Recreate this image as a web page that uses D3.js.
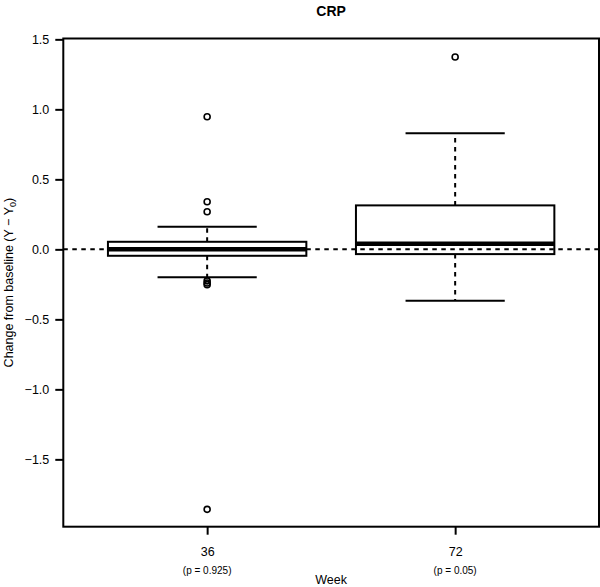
<!DOCTYPE html>
<html>
<head>
<meta charset="utf-8">
<script src="https://cdn.jsdelivr.net/npm/d3@7"></script>
<style>
  body { margin: 0; background: #fff; }
  text { font-family: "Liberation Sans", Arial, sans-serif; fill: #000; }
</style>
</head>
<body>
<div id="chart"></div>
<script>
// box stats per week
var weeks = ["36", "72"];
var pLabels = ["(p = 0.925)", "(p = 0.05)"];
var whiskLo = [-0.20, -0.367];
var q1 = [-0.046, -0.034];
var median = [0.0, 0.04];
var q3 = [0.054, 0.314];
var whiskHi = [0.161, 0.83];
var outliers36 = [0.947, 0.34, 0.269, -0.225, -0.24, -0.252, -1.857];
var outliers72 = [1.374];
var yTicks = [-1.5, -1.0, -0.5, 0.0, 0.5, 1.0, 1.5];

var width = 600, height = 587;
var fmt = d3.format(".1f");

var svg = d3.select("#chart").append("svg")
  .attr("width", width)
  .attr("height", height);

var x = d3.scaleLinear().domain([0.42, 2.58]).range([63.3, 599]);
var y = d3.scaleLinear().domain([-1.981, 1.506]).range([526.7, 38.5]);

var boxes = weeks.map(function(w, i) {
  return {
    pos: i + 1, lo: whiskLo[i], q1: q1[i], med: median[i], q3: q3[i], hi: whiskHi[i],
    out: i === 0 ? outliers36 : outliers72
  };
});

var boxW = 0.8, capW = 0.4;

var g = svg.append("g").selectAll("g.box")
  .data(boxes)
  .enter().append("g").attr("class", "box");

// whiskers
g.append("line")
  .attr("x1", d => x(d.pos)).attr("x2", d => x(d.pos))
  .attr("y1", d => y(d.q3)).attr("y2", d => y(d.hi))
  .attr("stroke", "#000").attr("stroke-width", 2).attr("stroke-dasharray", "4.5,4.5");
g.append("line")
  .attr("x1", d => x(d.pos)).attr("x2", d => x(d.pos))
  .attr("y1", d => y(d.q1)).attr("y2", d => y(d.lo))
  .attr("stroke", "#000").attr("stroke-width", 2).attr("stroke-dasharray", "4.5,4.5");

// caps
["hi", "lo"].forEach(function(k) {
  g.append("line")
    .attr("x1", d => x(d.pos - capW / 2)).attr("x2", d => x(d.pos + capW / 2))
    .attr("y1", d => y(d[k])).attr("y2", d => y(d[k]))
    .attr("stroke", "#000").attr("stroke-width", 2);
});

// box
g.append("rect")
  .attr("x", d => x(d.pos - boxW / 2))
  .attr("width", d => x(d.pos + boxW / 2) - x(d.pos - boxW / 2))
  .attr("y", d => y(d.q3))
  .attr("height", d => y(d.q1) - y(d.q3))
  .attr("fill", "#fff").attr("stroke", "#000").attr("stroke-width", 2);

// median
g.append("line")
  .attr("x1", d => x(d.pos - boxW / 2)).attr("x2", d => x(d.pos + boxW / 2))
  .attr("y1", d => y(d.med)).attr("y2", d => y(d.med))
  .attr("stroke", "#000").attr("stroke-width", 4.5);

// outliers
g.selectAll("circle")
  .data(d => d.out.map(v => ({pos: d.pos, v: v})))
  .enter().append("circle")
  .attr("cx", d => x(d.pos)).attr("cy", d => y(d.v))
  .attr("r", 3).attr("fill", "none").attr("stroke", "#000").attr("stroke-width", 1.6);

// reference line at zero
svg.append("line")
  .attr("x1", x.range()[0]).attr("x2", x.range()[1])
  .attr("y1", y(0)).attr("y2", y(0))
  .attr("stroke", "#000").attr("stroke-width", 2).attr("stroke-dasharray", "4.5,4.5");

// frame
svg.append("rect")
  .attr("x", x.range()[0]).attr("y", y.range()[1])
  .attr("width", x.range()[1] - x.range()[0])
  .attr("height", y.range()[0] - y.range()[1])
  .attr("fill", "none").attr("stroke", "#000").attr("stroke-width", 2);

// y axis
var yAxis = d3.axisLeft(y).tickValues(yTicks).tickFormat(fmt).tickSize(8).tickPadding(6);
var ya = svg.append("g").attr("transform", "translate(" + x.range()[0] + ",0)").call(yAxis);
ya.select(".domain").remove();
ya.selectAll(".tick line").attr("stroke-width", 2);
ya.selectAll(".tick text").style("font-size", "12.5px").style("font-family", "Liberation Sans, Arial, sans-serif");

// x axis
var xAxis = d3.axisBottom(x).tickValues([1, 2]).tickFormat((d, i) => weeks[i]).tickSize(8).tickPadding(12);
var xa = svg.append("g").attr("transform", "translate(0," + y.range()[0] + ")").call(xAxis);
xa.select(".domain").remove();
xa.selectAll(".tick line").attr("stroke-width", 2);
xa.selectAll(".tick text").style("font-size", "12.5px").style("font-family", "Liberation Sans, Arial, sans-serif");

// p-values under ticks
svg.selectAll("text.pval")
  .data(pLabels)
  .enter().append("text")
  .attr("class", "pval")
  .attr("x", (d, i) => x(i + 1))
  .attr("y", 574)
  .attr("text-anchor", "middle")
  .style("font-size", "10px")
  .text(d => d);

// axis titles
svg.append("text")
  .attr("x", (x.range()[0] + x.range()[1]) / 2)
  .attr("y", 584)
  .attr("text-anchor", "middle")
  .style("font-size", "12.5px")
  .text("Week");

var yt = svg.append("text")
  .attr("transform", "translate(13," + ((y.range()[0] + y.range()[1]) / 2) + ") rotate(-90)")
  .attr("text-anchor", "middle")
  .style("font-size", "12.5px");
yt.append("tspan").text("Change from baseline (Y \u2212 Y");
yt.append("tspan").attr("dy", 3).style("font-size", "9px").text("0");
yt.append("tspan").attr("dy", -3).text(")");

// title
svg.append("text")
  .attr("x", (x.range()[0] + x.range()[1]) / 2)
  .attr("y", 16)
  .attr("text-anchor", "middle")
  .style("font-size", "14px")
  .style("font-weight", "bold")
  .text("CRP");
</script>
</body>
</html>
